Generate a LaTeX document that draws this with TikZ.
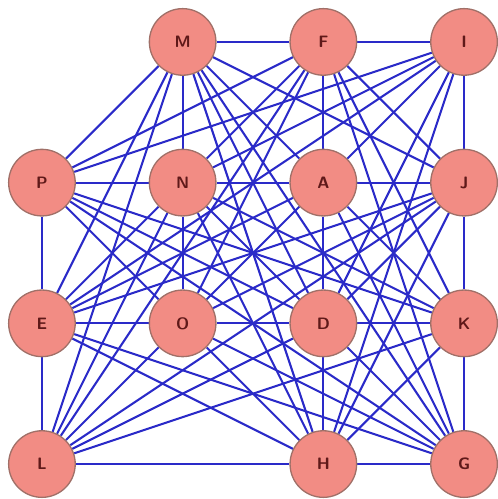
\documentclass[tikz,border=0pt]{standalone}
\usetikzlibrary{backgrounds}
\definecolor{nodefill}{RGB}{242,140,132}
\definecolor{nodeline}{RGB}{160,112,104}
\definecolor{edgeblue}{RGB}{42,42,200}
\definecolor{labred}{RGB}{95,25,25}

\begin{document}
\begin{tikzpicture}[
  v/.style={circle,fill=nodefill,draw=nodeline,line width=0.8pt,minimum size=1.42cm,inner sep=0pt,font=\sffamily\bfseries,text=labred},
  e/.style={draw=edgeblue,line width=1.25pt}]
  \useasboundingbox (-0.894,-0.745) rectangle (9.72,9.894);
  \foreach \n/\x/\y in {M/3/9,F/6/9,I/9/9,P/0/6,N/3/6,A/6/6,J/9/6,E/0/3,O/3/3,D/6/3,K/9/3,L/0/0,H/6/0,G/9/0}
    \node[v] (\n) at (\x,\y) {\n};
  \begin{scope}[on background layer]
    \foreach \a/\b in {M/F,M/P,M/N,M/A,M/J,M/E,M/D,M/L,M/H,M/G,
                       F/I,F/P,F/N,F/A,F/J,F/O,F/K,F/L,F/G,
                       I/P,I/N,I/A,I/J,I/E,I/D,I/H,
                       P/N,P/E,P/O,P/D,P/K,P/G,
                       N/A,N/E,N/O,N/D,N/K,N/L,N/H,
                       A/J,A/E,A/O,A/D,A/K,A/G,
                       J/E,J/O,J/D,J/K,J/L,J/H,
                       E/O,E/L,E/H,E/G,
                       O/D,O/L,O/H,O/G,
                       D/K,D/L,D/H,D/G,
                       K/L,K/H,K/G,L/H,H/G}
      \draw[e] (\a) -- (\b);
  \end{scope}
\end{tikzpicture}
\end{document}
